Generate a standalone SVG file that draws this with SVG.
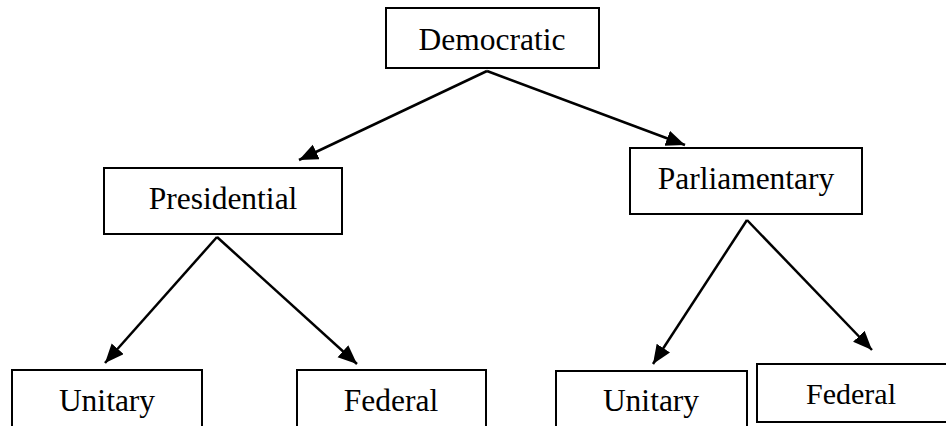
<svg xmlns="http://www.w3.org/2000/svg" width="946" height="426" viewBox="0 0 946 426">
<style>
.box{fill:#fff;stroke:#000;stroke-width:2}
.lbl{font-family:"Liberation Serif","Times New Roman",serif;font-size:31.5px;fill:#000;text-anchor:middle}
.edge{stroke:#000;stroke-width:2.5;fill:none;marker-end:url(#ah)}
</style>
<defs>
<marker id="ah" markerUnits="userSpaceOnUse" markerWidth="20" markerHeight="18" refX="19" refY="8" orient="auto">
<path d="M0,0 L19,8 L0,16 z" fill="#000"/>
</marker>
</defs>
<rect width="946" height="426" fill="#fff"/>
<g id="connectors">
<line class="edge" x1="487" y1="71" x2="299" y2="160"/>
<line class="edge" x1="487" y1="71" x2="685" y2="145"/>
<line class="edge" x1="217" y1="237" x2="105" y2="363"/>
<line class="edge" x1="217" y1="237" x2="357" y2="364"/>
<line class="edge" x1="747" y1="220" x2="653" y2="364"/>
<line class="edge" x1="747" y1="220" x2="872" y2="350"/>
</g>
<g id="democratic">
<rect class="box" x="386" y="8" width="213" height="60"/>
<text class="lbl" x="492" y="50">Democratic</text>
</g>
<g id="presidential">
<rect class="box" x="104" y="168" width="238" height="66"/>
<text class="lbl" x="223" y="209">Presidential</text>
</g>
<g id="parliamentary">
<rect class="box" x="630" y="148" width="232" height="66"/>
<text class="lbl" x="746" y="189">Parliamentary</text>
</g>
<g id="unitary-left">
<rect class="box" x="12" y="370" width="190" height="80"/>
<text class="lbl" x="107" y="411">Unitary</text>
</g>
<g id="federal-left">
<rect class="box" x="297" y="370" width="189" height="80"/>
<text class="lbl" x="391" y="411">Federal</text>
</g>
<g id="unitary-right">
<rect class="box" x="556" y="371" width="191" height="80"/>
<text class="lbl" x="651" y="411">Unitary</text>
</g>
<g id="federal-right">
<rect class="box" x="757" y="364" width="200" height="58"/>
<text class="lbl" x="851" y="404" style="font-size:30px">Federal</text>
</g>
</svg>
